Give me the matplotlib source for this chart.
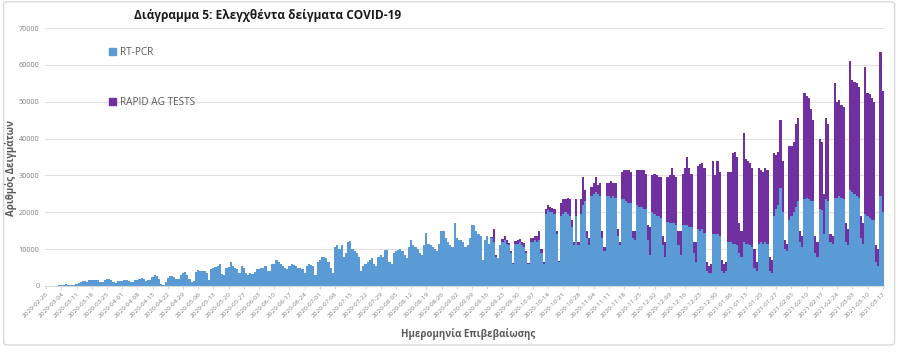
import matplotlib.pyplot as plt
import pandas as pd
from matplotlib.patches import Patch, FancyBboxPatch

plt.rcParams['font.family'] = ['Open Sans', 'DejaVu Sans']

# Daily samples, one row per week (Wed..Tue)
start_date = '2020-02-26'
rt_pcr = [
    40, 60, 50, 30, 20, 100, 150,                      # 2020-02-26
    200, 300, 600, 250, 150, 300, 350,                 # 03-04
    500, 800, 1100, 1400, 1300, 1000, 1600,            # 03-11
    1500, 1600, 1500, 1700, 1100, 1000, 1500,          # 03-18
    1900, 1800, 1500, 1200, 900, 1300, 1400,           # 03-25
    1400, 1500, 1600, 1300, 1000, 1200, 1700,          # 04-01
    1600, 1800, 2200, 1800, 1400, 1500, 1600,          # 04-08
    2500, 3000, 2700, 1800, 500, 300, 1200,            # 04-15
    2300, 2600, 2800, 2500, 1800, 2000, 3000,          # 04-22
    3600, 3800, 3000, 2000, 1200, 1300, 3800,          # 04-29
    4300, 4000, 4100, 4200, 3500, 1500, 4500,          # 05-06
    4800, 5200, 5500, 6000, 3200, 3000, 5000,          # 05-13
    5200, 6500, 5500, 5000, 4500, 3500, 5500,          # 05-20
    5000, 3500, 3000, 3500, 3200, 3800, 4500,          # 05-27
    4500, 4800, 5000, 5500, 4200, 4000, 6000,          # 06-03
    6000, 7000, 6500, 6000, 5500, 4800, 4600,          # 06-10
    5500, 6000, 5800, 5500, 5000, 4800, 4500,          # 06-17
    3500, 5500, 6000, 5800, 5500, 3000, 6500,          # 06-24
    7000, 8000, 8000, 7500, 6500, 5000, 3500,          # 07-01
    10500, 11000, 10000, 11000, 8000, 9000, 12000,     # 07-08
    12300, 10000, 9500, 9000, 8000, 4000, 5500,        # 07-15
    6000, 6500, 7000, 7500, 6000, 5500, 8000,          # 07-22
    8500, 8000, 9800, 9800, 6500, 6000, 9000,          # 07-29
    9500, 9800, 10000, 9500, 8500, 7500, 10500,        # 08-05
    12500, 11000, 10500, 10000, 9000, 8500, 11000,     # 08-12
    14500, 11500, 11000, 10500, 10000, 9500, 11500,    # 08-19
    15000, 15000, 13000, 12000, 11000, 10500, 17000,   # 08-26
    13000, 12500, 12500, 12000, 10500, 11000, 13000,   # 09-02
    16500, 16500, 15000, 14000, 13500, 7000, 12500,    # 09-09
    13500, 11500, 13000, 12000, 8000, 7500, 11000,     # 09-16
    12000, 12500, 11500, 11000, 9000, 6000, 11500,     # 09-23
    11500, 12000, 11000, 10500, 9000, 6000, 12000,     # 09-30
    12000, 12500, 12000, 12500, 9000, 6000, 19500,     # 10-07
    20500, 20000, 20000, 19500, 14000, 6500, 19000,    # 10-14
    19500, 20000, 19500, 19000, 16000, 11000, 19000,   # 10-21
    11000, 19500, 22000, 23000, 13000, 11000, 24500,   # 10-28
    25000, 25500, 25000, 24500, 13000, 9500, 24500,    # 11-04
    24500, 24000, 24500, 24000, 13500, 11000, 23500,   # 11-11
    23500, 23000, 22500, 22500, 13000, 12500, 22000,   # 11-18
    21500, 21500, 21000, 21000, 12500, 8500, 20000,    # 11-25
    19500, 19000, 19000, 18500, 11000, 8000, 17500,    # 12-02
    17000, 17000, 17000, 16500, 11000, 8500, 16500,    # 12-09
    16500, 16500, 16000, 16000, 9000, 6500, 15500,     # 12-16
    15000, 15500, 14500, 4000, 3500, 3500, 14000,      # 12-23
    14000, 14000, 13500, 4000, 3500, 4000, 12000,      # 12-30
    12000, 11500, 11500, 11000, 9000, 8000, 12000,     # 2021-01-06
    11500, 11500, 11000, 10500, 5000, 4000, 11500,     # 01-13
    12000, 11500, 12000, 11500, 4000, 3500, 19000,     # 01-20
    21000, 22000, 26500, 20000, 10000, 9500, 18000,    # 01-27
    19000, 20000, 21500, 23000, 12000, 10500, 23500,   # 02-03
    24000, 23500, 23000, 23000, 9000, 8000, 21000,     # 02-10
    20500, 14000, 23500, 23000, 12000, 11500, 24000,   # 02-17
    24000, 24500, 24000, 23500, 12000, 11000, 26000,   # 02-24
    25500, 25000, 24500, 24000, 13000, 11500, 19500,   # 03-03
    19000, 18500, 18000, 18000, 6500, 5500, 24500,     # 03-10
    20000,                                             # 03-17
]

rapid_start = '2020-09-16'
rapid_ag = [
    0, 0, 300, 3500, 500, 0, 0,                        # 2020-09-16
    800, 1000, 1000, 800, 500, 300, 800,               # 09-23
    1000, 800, 1000, 1200, 500, 300, 1000,             # 09-30
    1000, 1000, 1500, 2500, 1000, 500, 1500,           # 10-07
    1500, 1500, 1200, 1500, 1000, 300, 3500,           # 10-14
    4000, 3500, 4500, 4500, 2000, 1000, 4500,          # 10-21
    1000, 4000, 7500, 3000, 2000, 2000, 2500,          # 10-28
    3000, 4000, 2500, 3500, 2000, 1000, 3500,          # 11-04
    3500, 4500, 3500, 4000, 2000, 1000, 7500,          # 11-11
    8000, 8500, 9000, 8500, 2000, 2500, 9500,          # 11-18
    10000, 10000, 10500, 9500, 4000, 7500, 10000,      # 11-25
    11000, 11000, 10500, 11000, 2500, 4000, 12000,     # 12-02
    13000, 15000, 13000, 13000, 4000, 6500, 14000,     # 12-09
    15500, 18500, 16000, 14500, 3000, 5500, 17000,     # 12-16
    18000, 18000, 17500, 2500, 2000, 2500, 20000,      # 12-23
    16000, 20000, 17500, 3000, 2500, 2500, 19000,      # 12-30
    19000, 24500, 25000, 24000, 8000, 7000, 29500,     # 2021-01-06
    23000, 22500, 22500, 21500, 5000, 2500, 20500,     # 01-13
    19500, 19500, 20000, 20000, 4000, 3500, 17000,     # 01-20
    14500, 14500, 18500, 14000, 2500, 2000, 20000,     # 01-27
    19000, 19000, 22500, 22500, 3000, 3000, 29000,     # 02-03
    27500, 27500, 25000, 22000, 4500, 4000, 19000,     # 02-10
    18500, 11000, 22000, 21000, 2000, 2000, 31000,     # 02-17
    26000, 26000, 25000, 25000, 5000, 4500, 35000,     # 02-24
    30500, 30500, 30500, 30000, 6000, 5500, 40000,     # 03-03
    33500, 33500, 33000, 32000, 4500, 4500, 39000,     # 03-10
    33000,                                             # 03-17
]

dates = pd.date_range(start_date, periods=len(rt_pcr), freq='D')
rapid = pd.Series(rapid_ag, index=pd.date_range(rapid_start, periods=len(rapid_ag), freq='D'))
rapid = rapid.reindex(dates, fill_value=0)

blue = '#5B9BD5'
purple = '#7030A0'
grey = '#7F7F7F'

fig = plt.figure(figsize=(9, 3.52), dpi=100)
fig.patches.append(FancyBboxPatch((0.004, 0.02), 0.99, 0.975, boxstyle='round,pad=0,rounding_size=0.006',
                                  transform=fig.transFigure, fc='none', ec='#D9D9D9', lw=1))

ax = fig.add_axes([0.05, 0.1875, 0.932, 0.7327])
x = range(len(dates))
ax.bar(x, rt_pcr, width=1.0, color=blue, linewidth=0)
ax.bar(x, rapid.values, bottom=rt_pcr, width=1.0, color=purple, linewidth=0)

ax.set_xlim(-0.5, len(dates) - 0.5)
ax.set_ylim(0, 70000)
ax.set_yticks(range(0, 70001, 10000))
ax.grid(axis='y', color='#E0E0E0', linewidth=0.8)
ax.set_axisbelow(True)
for side in ['top', 'right', 'left']:
    ax.spines[side].set_visible(False)
ax.spines['bottom'].set_color('#D9D9D9')

ticks = list(range(0, len(dates), 7))
ax.set_xticks(ticks)
ax.set_xticklabels([dates[i].strftime('%Y-%m-%d') for i in ticks], rotation=45, ha='right',
                   rotation_mode='anchor', fontsize=4.6, color=grey)
ax.tick_params(axis='x', length=2, color='#D9D9D9', pad=2)
ax.tick_params(axis='y', length=0, labelsize=5.2, labelcolor=grey, pad=4)

fig.text(0.52, 0.051, 'Ημερομηνία Επιβεβαίωσης', ha='center', va='center', fontsize=7,
         fontweight='bold', color='#595959')
fig.text(0.012, 0.523, 'Αριθμός Δειγμάτων', ha='center', va='center', rotation=90, fontsize=7,
         fontweight='bold', color='#595959')
fig.text(0.297, 0.957, 'Διάγραμμα 5: Ελεγχθέντα δείγματα COVID-19', ha='center', va='center',
         fontsize=8.6, fontweight='bold', color='#1A1A1A')

handles = [Patch(color=blue, label='RT-PCR'), Patch(color=purple, label='RAPID AG TESTS')]
ax.legend(handles=handles, loc='upper left', bbox_to_anchor=(0.066, 0.96), frameon=False,
          fontsize=7.2, labelcolor='#595959', handlelength=0.7, handleheight=0.7,
          handletextpad=0.4, labelspacing=3.9)

plt.savefig('out.png', dpi=100)
